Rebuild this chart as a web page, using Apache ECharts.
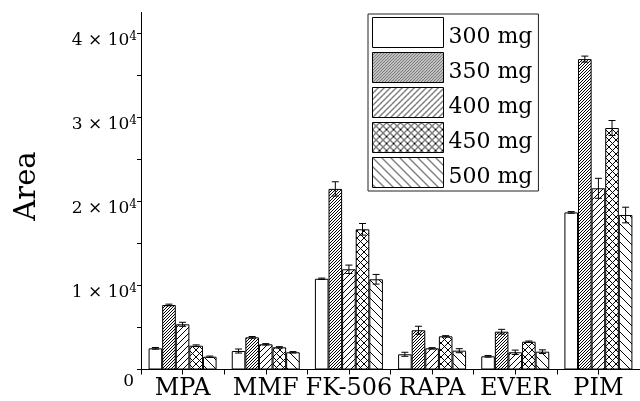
<!DOCTYPE html>
<html><head><meta charset="utf-8">
<script src="https://cdn.jsdelivr.net/npm/echarts@6/dist/echarts.min.js"></script>
<style>html,body{margin:0;padding:0;background:#fff}#c{width:640px;height:401px}</style>
</head><body><div id="c"></div>
<script>
const categories = ['MPA', 'MMF', 'FK-506', 'RAPA', 'EVER', 'PIM'];
const doses = ['300 mg', '350 mg', '400 mg', '450 mg', '500 mg'];
const v300 = [2520, 2200, 10800, 1810, 1570, 18700];
const e300 = [100, 240, 80, 240, 100, 100];
const v350 = [7680, 3830, 21500, 4670, 4500, 36950];
const e350 = [100, 100, 850, 480, 280, 360];
const v400 = [5380, 3000, 11930, 2520, 2050, 21570];
const e400 = [240, 80, 500, 80, 260, 1190];
const v450 = [2830, 2640, 16690, 3950, 3310, 28750];
const e450 = [100, 80, 690, 80, 80, 890];
const v500 = [1520, 2050, 10740, 2240, 2120, 18390];
const e500 = [80, 80, 575, 240, 220, 930];
const yTickValues = [0, 5000, 10000, 15000, 20000, 25000, 30000, 35000, 40000];
const yLabelValues = [0, 10000, 20000, 30000, 40000];

const values = [v300, v350, v400, v450, v500];
const errors = [e300, e350, e400, e450, e500];

const FONT = 'DejaVu Serif';
const BAR_W = 13.6;
const CAP = 3.5;

function makePattern(size, dirs) {
  const c = document.createElement('canvas');
  c.width = size; c.height = size;
  const g = c.getContext('2d');
  const img = g.createImageData(size, size);
  for (let y = 0; y < size; y++) {
    for (let x = 0; x < size; x++) {
      let on = false;
      dirs.forEach(d => {
        if (d === '/' && (x + y) % size === size - 1) on = true;
        if (d === '\\' && ((x - y) % size + size) % size === 0) on = true;
      });
      const k = (y * size + x) * 4;
      const c0 = on ? 0 : 255;
      img.data[k] = c0; img.data[k + 1] = c0; img.data[k + 2] = c0; img.data[k + 3] = 255;
    }
  }
  g.putImageData(img, 0, 0);
  return { image: c, repeat: 'repeat' };
}

const fills = [
  '#fff',
  makePattern(3, ['/']),
  makePattern(6, ['/']),
  makePattern(7, ['/', '\\']),
  makePattern(9, ['\\'])
];

const series = [];
doses.forEach((d, i) => {
  series.push({
    type: 'bar', name: d, data: values[i],
    barWidth: BAR_W, barGap: '0%',
    itemStyle: { color: fills[i], borderColor: '#000', borderWidth: 1 },
    z: 2
  });
});
doses.forEach((d, i) => {
  series.push({
    type: 'custom', name: 'err' + i, silent: true, z: 5,
    data: values[i].map((v, j) => [j, v, errors[i][j]]),
    encode: { x: 0, y: 1 },
    renderItem: (params, api) => {
      const j = api.value(0), v = api.value(1), e = api.value(2);
      const x = api.coord([j, v])[0] + (i - 2) * BAR_W;
      const top = api.coord([j, v + e])[1];
      const bot = api.coord([j, v - e])[1];
      const st = { stroke: '#000', lineWidth: 1 };
      return { type: 'group', children: [
        { type: 'line', shape: { x1: x, y1: top, x2: x, y2: bot }, style: st },
        { type: 'line', shape: { x1: x - CAP, y1: top, x2: x + CAP, y2: top }, style: st },
        { type: 'line', shape: { x1: x - CAP, y1: bot, x2: x + CAP, y2: bot }, style: st }
      ] };
    }
  });
});

const chart = echarts.init(document.getElementById('c'), null, { renderer: 'canvas' });
chart.setOption({
  animation: false,
  backgroundColor: '#fff',
  grid: { left: 141, top: 12.5, width: 507, height: 357 },
  legend: {
    data: doses, orient: 'vertical', left: 368, top: 14,
    itemWidth: 71, itemHeight: 30, itemGap: 4,
    padding: [3, 6, 3, 4],
    borderColor: '#222', borderWidth: 1,
    icon: 'rect',
    itemStyle: { borderColor: '#000', borderWidth: 1 },
    formatter: '{a|{name}}',
    textStyle: {
      fontFamily: FONT, fontSize: 22, color: '#000',
      rich: { a: { fontFamily: FONT, fontSize: 22, lineHeight: 20, color: '#000', padding: [9, 0, 0, 0] } }
    },
    selectedMode: false
  },
  xAxis: [{
    type: 'category', data: categories, boundaryGap: true,
    axisLine: { lineStyle: { color: '#000', width: 1 } },
    axisTick: { show: true, length: 5, lineStyle: { color: '#000' } },
    axisLabel: { interval: 0, hideOverlap: false, fontFamily: FONT, fontSize: 24, color: '#000', margin: 7 },
    splitLine: { show: false }
  }, {
    type: 'category', data: categories, position: 'bottom',
    axisLine: { show: false },
    axisTick: { show: true, alignWithLabel: true, interval: 0, length: 5, lineStyle: { color: '#000' } },
    axisLabel: { show: false },
    splitLine: { show: false }
  }],
  yAxis: {
    type: 'value', min: 0, max: 42500,
    name: 'Area', nameLocation: 'middle', nameGap: 99,
    nameTextStyle: { fontFamily: FONT, fontSize: 29, color: '#000', padding: [0, 0, 0, 10] },
    axisLine: { show: true, lineStyle: { color: '#000', width: 1 } },
    axisTick: { show: true, length: 4, customValues: yTickValues, lineStyle: { color: '#000' } },
    splitLine: { show: false },
    axisLabel: {
      customValues: yLabelValues, margin: 4, padding: [14, 0, 0, 0],
      formatter: v => v === 0 ? '{z|0}' : '{m|' + (v / 10000) + ' × 10}{s|4}',
      rich: {
        m: { fontFamily: FONT, fontSize: 17, lineHeight: 20, color: '#000' },
        s: { fontFamily: FONT, fontSize: 12, lineHeight: 10, verticalAlign: 'top', color: '#000' },
        z: { fontFamily: FONT, fontSize: 17, lineHeight: 20, color: '#000', padding: [10, 3, 0, 0] }
      }
    }
  },
  series: series
});
</script>
</body></html>
